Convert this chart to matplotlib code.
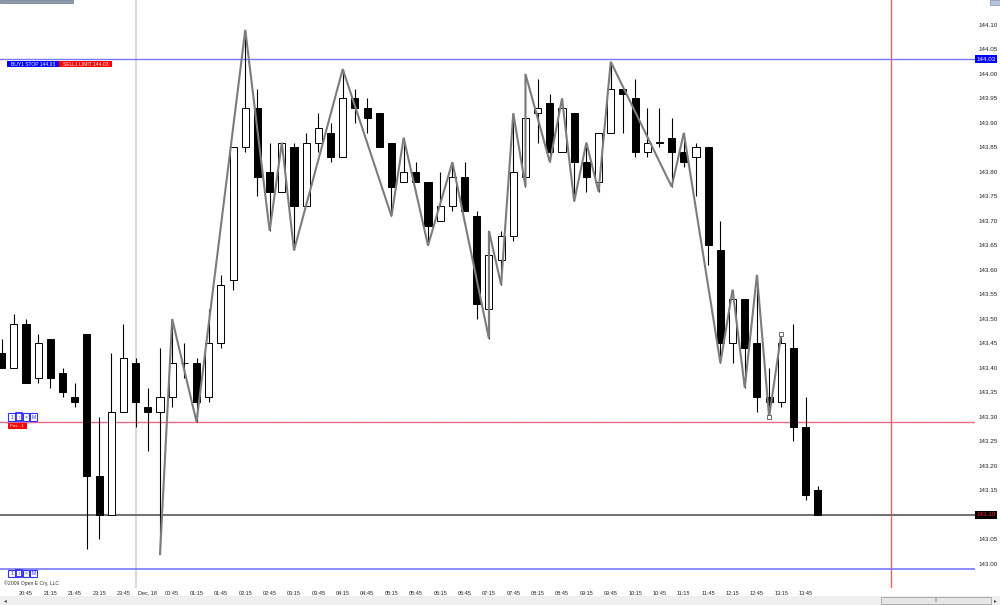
import numpy as np
import matplotlib
matplotlib.use('Agg')
import matplotlib.pyplot as plt
import matplotlib.transforms as mtransforms
from matplotlib.patches import Rectangle

plt.rcParams['font.family'] = ['Liberation Sans', 'DejaVu Sans']

# ---- data (15-minute bars) ----
bar_open = [143.43, 143.40, 143.49, 143.38, 143.46, 143.39, 143.34, 143.47, 143.18, 143.10,
            143.31, 143.41, 143.32, 143.31, 143.34, 143.41, 143.41, 143.34, 143.45, 143.58,
            143.85, 143.93, 143.80, 143.76, 143.85, 143.73, 143.86, 143.88, 143.83, 143.95,
            143.93, 143.92, 143.86, 143.78, 143.80, 143.78, 143.70, 143.73, 143.79, 143.71,
            143.52, 143.62, 143.67, 143.79, 143.92, 143.94, 143.84, 143.92, 143.82, 143.78,
            143.88, 143.97, 143.95, 143.84, 143.86, 143.87, 143.84, 143.83, 143.85, 143.64,
            143.45, 143.54, 143.45, 143.34, 143.33, 143.44, 143.28, 143.15]
bar_high = [143.46, 143.51, 143.50, 143.47, 143.46, 143.40, 143.37, 143.47, 143.30, 143.43,
            143.49, 143.42, 143.36, 143.44, 143.50, 143.45, 143.42, 143.52, 143.59, 143.85,
            144.09, 143.97, 143.86, 143.86, 143.86, 143.88, 143.92, 143.90, 144.01, 143.97,
            143.95, 143.92, 143.86, 143.87, 143.82, 143.78, 143.80, 143.82, 143.82, 143.72,
            143.68, 143.68, 143.92, 144.00, 143.99, 143.96, 143.95, 143.92, 143.86, 143.88,
            144.025, 143.97, 143.99, 143.93, 143.93, 143.91, 143.88, 143.86, 143.85, 143.70,
            143.56, 143.54, 143.59, 143.40, 143.47, 143.49, 143.34, 143.16]
bar_low = [143.40, 143.40, 143.37, 143.37, 143.36, 143.34, 143.32, 143.03, 143.05, 143.10,
           143.31, 143.28, 143.23, 143.02, 143.32, 143.38, 143.29, 143.33, 143.44, 143.56,
           143.84, 143.75, 143.68, 143.76, 143.64, 143.73, 143.84, 143.82, 143.83, 143.90,
           143.88, 143.85, 143.71, 143.78, 143.78, 143.65, 143.70, 143.72, 143.72, 143.50,
           143.46, 143.57, 143.66, 143.77, 143.86, 143.82, 143.84, 143.74, 143.76, 143.76,
           143.88, 143.88, 143.83, 143.83, 143.85, 143.77, 143.81, 143.75, 143.61, 143.41,
           143.41, 143.36, 143.31, 143.30, 143.32, 143.25, 143.13, 143.10]
bar_close = [143.40, 143.49, 143.37, 143.45, 143.38, 143.35, 143.33, 143.18, 143.10, 143.31,
             143.42, 143.33, 143.31, 143.34, 143.41, 143.41, 143.33, 143.45, 143.57, 143.85,
             143.93, 143.79, 143.76, 143.86, 143.73, 143.86, 143.89, 143.83, 143.95, 143.93,
             143.91, 143.85, 143.77, 143.80, 143.78, 143.69, 143.73, 143.79, 143.72, 143.53,
             143.63, 143.67, 143.80, 143.91, 143.93, 143.84, 143.93, 143.82, 143.79, 143.88,
             143.97, 143.96, 143.84, 143.86, 143.86, 143.84, 143.82, 143.85, 143.65, 143.45,
             143.54, 143.44, 143.34, 143.33, 143.45, 143.28, 143.14, 143.10]

# zigzag swing points: (bar index, price)
zz_idx = [13, 14, 16, 20, 22, 23, 24, 28, 32, 33, 35, 37, 40, 40, 41, 42, 43, 43,
          45, 46, 47, 48, 49, 50, 55, 56, 59, 60, 61, 62, 63, 64]
zz_price = [143.02, 143.50, 143.29, 144.09, 143.68, 143.86, 143.64, 144.01, 143.71, 143.87,
            143.65, 143.82, 143.46, 143.68, 143.57, 143.92, 143.77, 144.00, 143.82, 143.95,
            143.74, 143.86, 143.76, 144.025, 143.77, 143.88, 143.41, 143.56, 143.36, 143.59,
            143.30, 143.47]

x_tick_idx = list(range(2, 67, 2))
x_tick_labels = ["20:45", "21:15", "21:45", "23:15", "23:45", "Dec, 18", "00:45", "01:15",
                 "01:45", "02:15", "02:45", "03:15", "03:45", "04:15", "04:45", "05:15",
                 "05:45", "06:15", "06:45", "07:15", "07:45", "08:15", "08:45", "09:15",
                 "09:45", "10:15", "10:45", "11:15", "11:45", "12:15", "12:45", "13:15",
                 "13:45"]
y_ticks = [143.00, 143.05, 143.10, 143.15, 143.20, 143.25, 143.30, 143.35, 143.40, 143.45,
           143.50, 143.55, 143.60, 143.65, 143.70, 143.75, 143.80, 143.85, 143.90, 143.95,
           144.00, 144.05, 144.10]

buy_stop = 144.03
position_level = 143.29
last_price = 143.10
bottom_level = 142.99
day_break_idx = 11
cursor_idx = 73

# ---- figure ----
fig = plt.figure(figsize=(10, 6.05), dpi=100)
fig.patch.set_facecolor('white')
ax = fig.add_axes([0, 17 / 605, 0.975, 588 / 605])
ax.set_facecolor('white')
for s in ax.spines.values():
    s.set_visible(False)

o = np.array(bar_open); h = np.array(bar_high); l = np.array(bar_low); c = np.array(bar_close)
idx = np.arange(len(o))
up = c >= o
body_bottom = np.minimum(o, c)
body_h = np.maximum(np.abs(c - o), 0.0012)

ax.axvline(day_break_idx, color='#dcdcdc', lw=1.6, zorder=1)
ax.axvline(cursor_idx, color='#ff6060', lw=1, zorder=1)

ax.axhline(buy_stop, color='#7878ff', lw=1, zorder=2)
ax.axhline(position_level, color='#ff6a6a', lw=1, zorder=2)
ax.axhline(position_level, color='#a070ff', lw=0.6, ls=(0, (1, 2)), zorder=2)
ax.axhline(last_price, color='#707070', lw=1.4, zorder=2)
ax.axhline(bottom_level, color='#7878ff', lw=1.2, zorder=2)

ax.vlines(idx, l, h, color='black', lw=0.8, zorder=3)
ax.bar(idx, body_h, bottom=body_bottom, width=0.58,
       color=np.where(up, 'white', 'black'), edgecolor='black', linewidth=0.7, zorder=4)

ax.plot(zz_idx, zz_price, color='#7c7c7c', lw=1.5, zorder=5, solid_joinstyle='miter')
ax.plot(zz_idx[-2:], zz_price[-2:], ls='none', marker='s', ms=2.6, mfc='white',
        mec='#555555', mew=0.6, zorder=6)

ax.set_xlim(-0.134, 79.9)
ax.set_ylim(142.951, 144.151)

ax.yaxis.tick_right()
ax.set_yticks(y_ticks)
ax.set_yticklabels(['%.2f' % v for v in y_ticks])
ax.tick_params(axis='y', length=0, pad=2.2, labelsize=4.5, labelcolor='#222222')
ax.set_xticks(x_tick_idx)
ax.set_xticklabels(x_tick_labels)
ax.tick_params(axis='x', length=0, pad=2.0, labelsize=4.0, labelcolor='#222222')

blend = mtransforms.blended_transform_factory(ax.transAxes, ax.transData)
ax.text(1.0015, buy_stop, '%.2f' % buy_stop, transform=blend, ha='left', va='center',
        fontsize=4.5, color='white', clip_on=False, zorder=10,
        bbox=dict(boxstyle='square,pad=0.25', fc='#0000ff', ec='none'))
ax.text(1.0015, last_price, '%.2f' % last_price, transform=blend, ha='left', va='center',
        fontsize=4.5, color='#ff2020', clip_on=False, zorder=10,
        bbox=dict(boxstyle='square,pad=0.25', fc='black', ec='none'))

# ---- UI decorations in pixel coordinates ----
px = mtransforms.Affine2D().scale(1 / 1000, -1 / 605).translate(0, 1) + fig.transFigure

def box(x, y, w, hh, fc, ec='none', lw=0.6):
    fig.patches.append(Rectangle((x, y), w, hh, transform=px, fc=fc, ec=ec, lw=lw))

def label(x, y, s, size, color, ha='left'):
    fig.text(x, y, s, transform=px, fontsize=size, color=color, ha=ha, va='center')

box(7.3, 60.7, 52, 6.3, '#0000ff')
label(33.3, 64.0, 'BUY1 STOP %.2f' % buy_stop, 3.6, 'white', ha='center')
box(59.3, 60.7, 52.4, 6.3, '#ff0000')
label(85.5, 64.0, 'SELL1 LIMIT %.2f' % buy_stop, 3.6, 'white', ha='center')

def icons(y):
    glyphs = ['1', '↕', '×', 'M']
    for k, g in enumerate(glyphs):
        x0 = 8.3 + k * 7.3
        box(x0, y, 6.5, 7.4, 'white', ec='#3030ff', lw=0.8 if k != 1 else 1.3)
        label(x0 + 3.25, y + 3.9, g, 3.6, '#3030ff', ha='center')

icons(413.3)
box(7.7, 423, 19, 6.2, '#ff0000')
label(17.2, 426.2, 'Pos: -1', 3.2, 'white', ha='center')
icons(569.5)
label(4, 583.5, '©2009 Open E Cry, LLC', 3.7, '#333333')

box(0, 0, 73, 2.8, '#8d9bab', ec='#6b7888', lw=0.5)
box(990, 0, 10, 5, '#b8c4dc', ec='#8090b0', lw=0.5)

box(0, 596, 1000, 9, '#efefef')
box(881, 597, 110, 7, '#e6e6e6', ec='#a0a0a0', lw=0.6)
label(936, 600.5, '|||', 3, '#666666', ha='center')
fig.text(5, 600.5, '◂', transform=px, fontsize=4, color='#444444', ha='center', va='center',
         family=['DejaVu Sans'])
fig.text(995, 600.5, '▸', transform=px, fontsize=4, color='#444444', ha='center', va='center',
         family=['DejaVu Sans'])

fig.savefig('out.png', dpi=100, facecolor='white')
